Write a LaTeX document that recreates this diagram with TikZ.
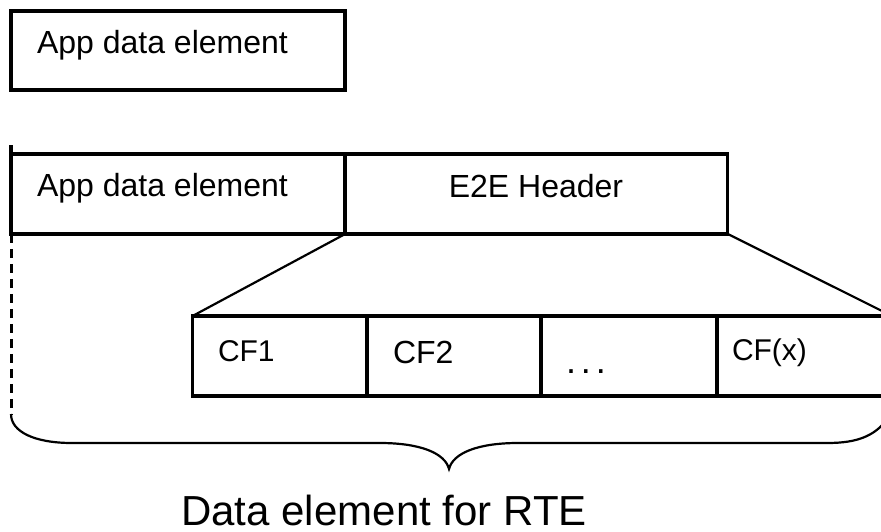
\documentclass[tikz,border=0pt]{standalone}
\usepackage{fontspec}
\setmainfont{Liberation Sans}
\begin{document}
\begin{tikzpicture}[x=1pt,y=-1pt,
  field/.style={draw,line width=3.5pt,inner sep=0pt,outer sep=0pt,minimum height=80pt},
  fieldtext/.style={inner sep=0pt,outer sep=0pt,anchor=base west,font=\fontsize{32}{38}\selectfont}]
\useasboundingbox (0,0) rectangle (881,531);
% plain element
\node[field,minimum width=334pt,minimum height=79pt] (app) at (178,50.5) {};
\node[fieldtext] (apptext) at (37,53.5) {App data element};
% protected element
\node[field,minimum width=334pt] (prot) at (178,193.8) {};
\node[field,minimum width=382pt] (e2e) at (536.5,193.8) {};
\node[fieldtext] (prottext) at (37,196) {App data element};
\node[fieldtext,anchor=base] (e2etext) at (536,197.5) {E2E Header};
\draw[line width=3.5pt] (prot.north west) -- ++(0,-9);
% header fields
\node[field,minimum width=174.5pt] (cf1) at (279.8,356) {};
\node[field,minimum width=174pt] (cf2) at (454,356) {};
\node[field,minimum width=176pt] (cfdots) at (629,356) {};
\node[field,minimum width=175pt] (cfx) at (804.5,356) {};
\node[fieldtext,font=\fontsize{30}{36}\selectfont] (cf1text) at (218,361.5) {CF1};
\node[fieldtext] (cf2text) at (393,363.3) {CF2};
\node[fieldtext,font=\fontsize{36}{40}\selectfont] (dotstext) at (566,373) {.\hspace{5pt}.\hspace{5pt}.};
\node[fieldtext,font=\fontsize{30}{36}\selectfont] (cfxtext) at (732,360) {CF(x)};
\draw[line width=2.2pt] (e2e.south west) -- (cf1.north west);
\draw[line width=2.2pt] (e2e.south east) -- (cfx.north east);
% brace
\coordinate (bl) at (11,414);
\draw[line width=3pt,dash pattern=on 9pt off 6pt] (prot.south west) -- (bl);
\draw[line width=2.2pt] (bl) .. controls (11,432) and (35,443) .. (72,443) -- (380,443)
  .. controls (420,443) and (445,453) .. (449,469)
  .. controls (453,453) and (478,443) .. (518,443) -- (827,443)
  .. controls (858,443) and (878,436) .. (892,412);
\node[inner sep=0pt,anchor=base,font=\fontsize{42}{50}\selectfont] (rte) at (384,525.5) {Data element for RTE};
\end{tikzpicture}
\end{document}
